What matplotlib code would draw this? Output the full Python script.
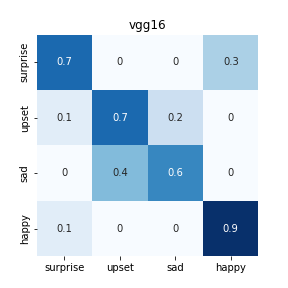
import numpy as np
import matplotlib
matplotlib.use('Agg')
import matplotlib.pyplot as plt
import seaborn as sns

labels = ['surprise', 'upset', 'sad', 'happy']
surprise_row = [0.7, 0, 0, 0.3]
upset_row = [0.1, 0.7, 0.2, 0]
sad_row = [0, 0.4, 0.6, 0]
happy_row = [0.1, 0, 0, 0.9]

cm = np.array([surprise_row, upset_row, sad_row, happy_row])

fig = plt.figure(figsize=(4, 4), dpi=72)
ax = sns.heatmap(cm, annot=True, cmap='Blues', cbar=False, square=True,
                 xticklabels=labels, yticklabels=labels)
plt.setp(ax.get_yticklabels(), rotation=90, va='center')
plt.title('vgg16')
plt.savefig('out.png')
